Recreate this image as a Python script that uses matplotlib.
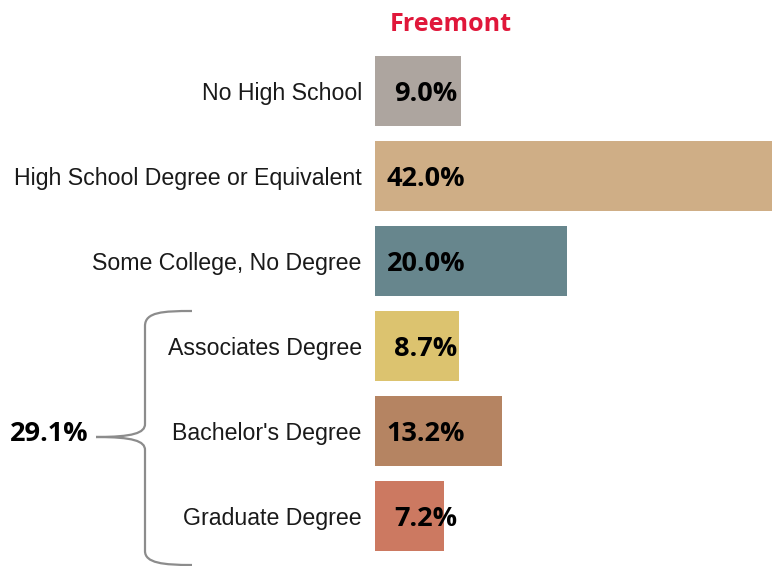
import matplotlib
matplotlib.use("Agg")
import matplotlib.pyplot as plt
from matplotlib.path import Path
from matplotlib.patches import PathPatch

# education levels and share of population (%)
categories = [
    "No High School",
    "High School Degree or Equivalent",
    "Some College, No Degree",
    "Associates Degree",
    "Bachelor's Degree",
    "Graduate Degree",
]
shares = [9.0, 42.0, 20.0, 8.7, 13.2, 7.2]
colors = ["#ada59f", "#cfae86", "#67868d", "#dcc36f", "#b58462", "#cc7961"]
title = "Freemont"

W, H = 772, 566
fig = plt.figure(figsize=(W / 100, H / 100), dpi=100)

# bars start at pixel 375 at 9.6 px per percent; the longest runs off the edge
ax = fig.add_axes([375 / W, 0, 1 - 375 / W, 1])
ypos = list(range(len(categories)))
ax.barh(ypos, shares, height=0.82, color=colors)
ax.set_xlim(0, (W - 375) / 9.6)
ax.set_ylim((H - 91) / 85, -91 / 85)
ax.set_yticks(ypos)
ax.set_yticklabels(categories, fontsize=16.7, family="Liberation Sans", color="#1a1a1a")
ax.tick_params(axis="y", length=0, pad=9.5)
ax.set_xticks([])
for s in ax.spines.values():
    s.set_visible(False)

for y, v in zip(ypos, shares):
    ax.text(5.3, y + 0.03, f"{v:.1f}%", ha="center", va="center",
            fontsize=19.5, fontweight="bold", family="Open Sans", color="black")

ax.text(7.9, -0.78, title, ha="center", va="center", fontsize=18,
        fontweight="bold", family="Open Sans", color="#e0173a", clip_on=False)

# brace grouping the post-secondary degrees, drawn in pixel space
ov = fig.add_axes([0, 0, 1, 1], facecolor="none")
ov.set_xlim(0, W)
ov.set_ylim(H, 0)
ov.axis("off")
verts = [
    (192, 311), (163, 311), (145, 312), (145, 326),
    (145, 424),
    (145, 433), (133, 437), (96, 437),
    (133, 437), (145, 441), (145, 450),
    (145, 551),
    (145, 563), (163, 565), (192, 565),
]
codes = [Path.MOVETO, Path.CURVE4, Path.CURVE4, Path.CURVE4,
         Path.LINETO,
         Path.CURVE4, Path.CURVE4, Path.CURVE4,
         Path.CURVE4, Path.CURVE4, Path.CURVE4,
         Path.LINETO,
         Path.CURVE4, Path.CURVE4, Path.CURVE4]
ov.add_patch(PathPatch(Path(verts, codes), fill=False, edgecolor="#8c8c8c", lw=1.6))

degree_total = sum(shares[3:])
ov.text(49, 434, f"{degree_total:.1f}%", ha="center", va="center",
        fontsize=19.5, fontweight="bold", family="Open Sans", color="black")

fig.savefig("out.png", dpi=100)
